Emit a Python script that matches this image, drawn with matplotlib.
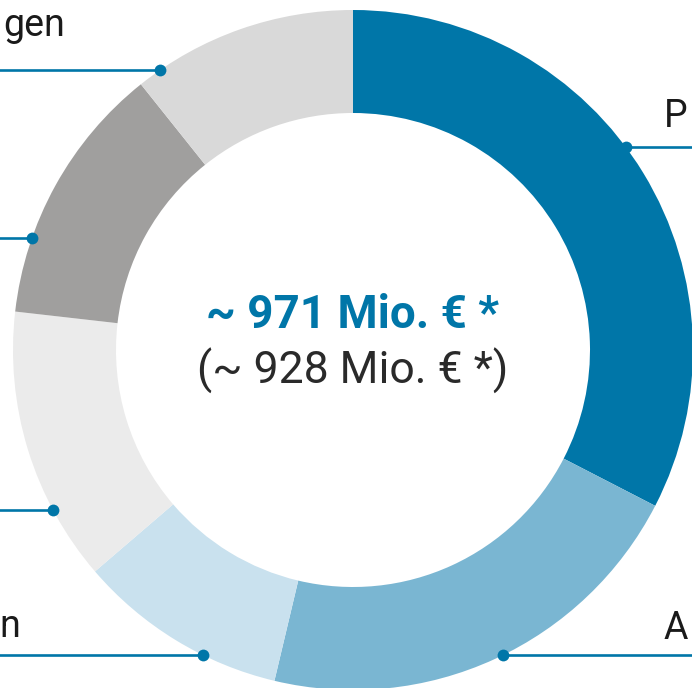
import numpy as np
import matplotlib
matplotlib.use('Agg')
import matplotlib.pyplot as plt

# Anteile der Segmente (im Uhrzeigersinn ab 12 Uhr), ~ Mio. €
segments = ['Personal', 'Auftragsvergaben', 'Investitionen', 'Sachkosten', 'Sonstiges', 'Zuweisungen']
values = [316, 205, 97, 127, 121, 104]
colors = ['#0076a8', '#7ab6d2', '#c9e1ee', '#ebebeb', '#a09f9e', '#d9d9d9']

total_now = '~ 971 Mio. € *'
total_prev = '(~ 928 Mio. € *)'

# sichtbare Teile der Beschriftungen (der Rest liegt ausserhalb des Bildausschnitts)
labels = ['P', 'A', 'n', '', '', 'gen']

W, H = 692, 688
cx, cy = 353, 350
R, ring = 340, 103
blue = '#0076a8'

plt.rcParams['font.family'] = ['Roboto', 'DejaVu Sans']

fig = plt.figure(figsize=(W / 100, H / 100), dpi=100)
ax = fig.add_axes([0, 0, 1, 1])

ax.pie(values, colors=colors, startangle=90, counterclock=False,
       center=(cx, H - cy), radius=R, frame=True,
       wedgeprops=dict(width=ring, linewidth=0))
ax.set_xlim(0, W)
ax.set_ylim(0, H)
ax.axis('off')

# Führungslinien: y der Linie (px von oben), Seite, Textposition
lines = [
    (147, 'r', 664, 127, 'left'),
    (655, 'r', 664, 639, 'left'),
    (655, 'l', 20, 637, 'right'),
    (510, 'l', 0, 492, 'right'),
    (238, 'l', 0, 220, 'right'),
    (70, 'l', 3, 36, 'left'),
]
for lab, (ly, side, tx, ty, ha) in zip(labels, lines):
    dx = np.sqrt(R ** 2 - (ly - cy) ** 2)
    if side == 'r':
        px = cx + dx
        ax.plot([px, W + 5], [H - ly, H - ly], color=blue, lw=1.9, solid_capstyle='butt')
    else:
        px = cx - dx
        ax.plot([-5, px], [H - ly, H - ly], color=blue, lw=1.9, solid_capstyle='butt')
    ax.plot(px, H - ly, 'o', color=blue, ms=8.5, mec='none')
    if lab:
        ax.text(tx, H - ty, lab, ha=ha, va='baseline', fontsize=27,
                color='#1a1a1a')

ax.text(cx, H - 328, total_now, ha='center', va='baseline', fontsize=33,
        fontweight='bold', color=blue)
ax.text(cx, H - 384, total_prev, ha='center', va='baseline', fontsize=32,
        color='#2a2a2a')

fig.savefig('out.png', dpi=100)
